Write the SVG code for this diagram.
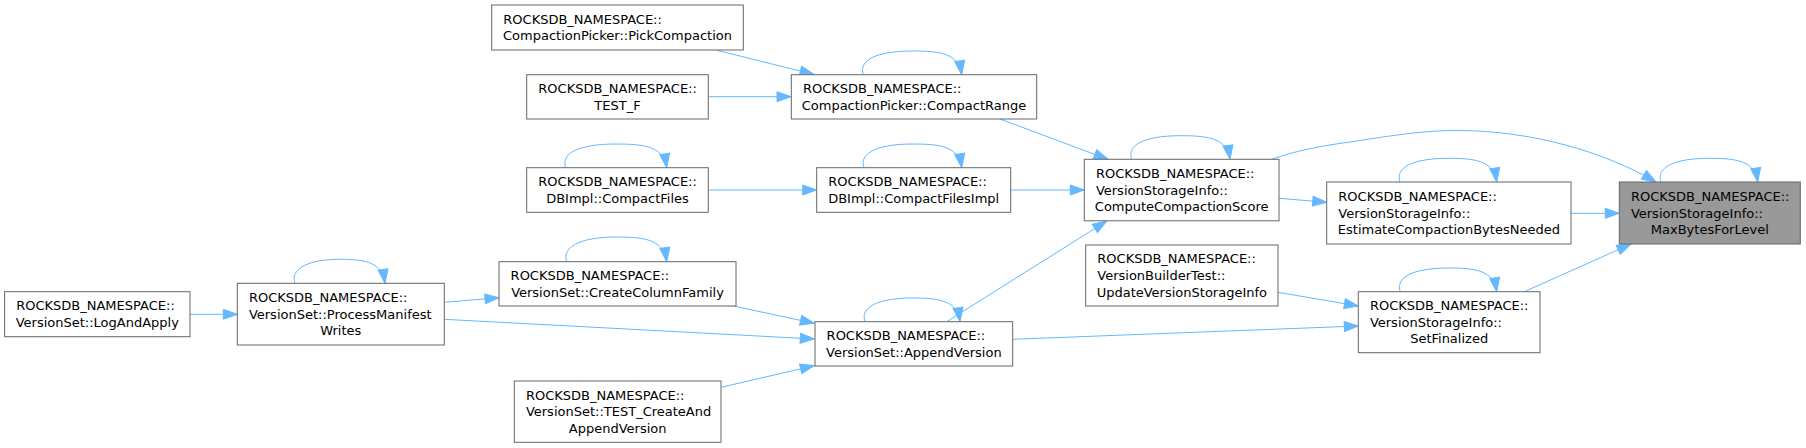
<svg xmlns="http://www.w3.org/2000/svg" width="1806" height="448" viewBox="0 0 1806 448">
<style>
.n rect{fill:#ffffff;stroke:#666666;stroke-width:1}
.n.hl rect{fill:#999999}
.n text{font-family:"DejaVu Sans","Liberation Sans",sans-serif;font-size:13px;fill:#000000}
.s{text-anchor:start}
.m{text-anchor:middle}
.e path{fill:none;stroke:#63b8ff;stroke-width:1;marker-end:url(#ah)}
</style>
<defs>
<marker id="ah" markerUnits="userSpaceOnUse" viewBox="0 0 16 12" markerWidth="16" markerHeight="12" refX="15" refY="6" orient="auto">
<path d="M1,1 L15,6 L1,11 z" fill="#63b8ff" stroke="#63b8ff" stroke-width="1"/>
</marker>
</defs>
<rect width="1806" height="448" fill="#ffffff"/>
<g id="edges" class="e">
<path d="M717,50.3 L814,74.5"/>
<path d="M708.3,96.7 L791,96.7"/>
<path d="M863.3,74.7 C858.3,60.7 875.3,51 912.5,51 C942,51 958.7,54 961.7,74.7"/>
<path d="M1000,119 L1108,159.3"/>
<path d="M565.7,167.7 C560.7,153.7 577.7,144 616.2,144 C646,144 663.7,147 666.7,167.7"/>
<path d="M708.3,190 L816.7,190"/>
<path d="M864,167.7 C859,153.7 876,144 912.8,144 C942,144 958.7,147 961.7,167.7"/>
<path d="M1010.7,190 L1084.3,190"/>
<path d="M1131.7,159.3 C1126.7,145.3 1143.7,135.7 1180.8,135.7 C1210,135.7 1227,138.7 1230,159.3"/>
<path d="M1271.7,159.3 C1295,151 1320,146 1350,142 C1395,135 1425,130.5 1457,130.5 C1530,130.5 1603,151 1656,182"/>
<path d="M1279,198.3 L1326.7,202.3"/>
<path d="M1400,182 C1395,168 1412,158.3 1448.3,158.3 C1477,158.3 1493.7,161.3 1496.7,182"/>
<path d="M1571,213.3 L1619.3,213.3"/>
<path d="M1661,182 C1656,168 1673,158.3 1709.3,158.3 C1738,158.3 1754.7,161.3 1757.7,182"/>
<path d="M1524.3,291.7 L1631,244"/>
<path d="M1400.3,291.7 C1395.3,277.7 1412.3,268 1448.5,268 C1477,268 1493.7,271 1496.7,291.7"/>
<path d="M1278,292.3 L1358.3,306"/>
<path d="M1012.7,339.3 L1358.3,326"/>
<path d="M865,321.7 C860,307.7 877,298 912.5,298 C941,298 957,301 960,321.7"/>
<path d="M946.7,321.7 L1106.7,221"/>
<path d="M732,305.7 L814.3,323.3"/>
<path d="M444.3,319.3 L814.3,339"/>
<path d="M721,387.3 L814.3,365.7"/>
<path d="M295,283.3 C290,269.3 307,259.3 340,259.3 C366,259.3 382,262.3 385,283.3"/>
<path d="M444.3,302.3 L499,297.7"/>
<path d="M190,314.3 L237.3,314.3"/>
<path d="M566.7,261.7 C561.7,247.7 578.7,237 616.7,237 C646,237 663.7,240 666.7,261.7"/>
</g>
<g id="node_pick" class="n">
<rect x="491.7" y="5" width="251.6" height="45"/>
<text class="s" x="503.3" y="23.7">ROCKSDB_NAMESPACE::</text>
<text class="m" x="617.5" y="40.3">CompactionPicker::PickCompaction</text>
</g>
<g id="node_testf" class="n">
<rect x="526.7" y="74.7" width="181.6" height="44.3"/>
<text class="s" x="538.3" y="93.05">ROCKSDB_NAMESPACE::</text>
<text class="m" x="617.5" y="109.65">TEST_F</text>
</g>
<g id="node_compactfiles" class="n">
<rect x="526.7" y="167.7" width="181.6" height="44.6"/>
<text class="s" x="538.3" y="186.2">ROCKSDB_NAMESPACE::</text>
<text class="m" x="617.5" y="202.8">DBImpl::CompactFiles</text>
</g>
<g id="node_compactrange" class="n">
<rect x="791.3" y="74.7" width="245.4" height="44.3"/>
<text class="s" x="802.9" y="93.05">ROCKSDB_NAMESPACE::</text>
<text class="m" x="914" y="109.65">CompactionPicker::CompactRange</text>
</g>
<g id="node_compactfilesimpl" class="n">
<rect x="816.7" y="167.7" width="194" height="44.6"/>
<text class="s" x="828.3" y="186.2">ROCKSDB_NAMESPACE::</text>
<text class="m" x="913.7" y="202.8">DBImpl::CompactFilesImpl</text>
</g>
<g id="node_compute" class="n">
<rect x="1084.3" y="159.3" width="194.7" height="61.5"/>
<text class="s" x="1095.9" y="177.95">ROCKSDB_NAMESPACE::</text>
<text class="s" x="1095.9" y="194.55">VersionStorageInfo::</text>
<text class="m" x="1181.65" y="211.15">ComputeCompactionScore</text>
</g>
<g id="node_estimate" class="n">
<rect x="1326.7" y="182" width="244.3" height="62"/>
<text class="s" x="1338.3" y="200.9">ROCKSDB_NAMESPACE::</text>
<text class="s" x="1338.3" y="217.5">VersionStorageInfo::</text>
<text class="m" x="1448.85" y="234.1">EstimateCompactionBytesNeeded</text>
</g>
<g id="node_maxbytes" class="n hl">
<rect x="1619.3" y="182" width="181" height="62"/>
<text class="s" x="1630.9" y="200.9">ROCKSDB_NAMESPACE::</text>
<text class="s" x="1630.9" y="217.5">VersionStorageInfo::</text>
<text class="m" x="1709.8" y="234.1">MaxBytesForLevel</text>
</g>
<g id="node_update" class="n">
<rect x="1085.7" y="245" width="192.3" height="61"/>
<text class="s" x="1097.3" y="263.4">ROCKSDB_NAMESPACE::</text>
<text class="s" x="1097.3" y="280">VersionBuilderTest::</text>
<text class="m" x="1181.85" y="296.6">UpdateVersionStorageInfo</text>
</g>
<g id="node_setfinalized" class="n">
<rect x="1358.3" y="291.7" width="181.7" height="61"/>
<text class="s" x="1369.9" y="310.1">ROCKSDB_NAMESPACE::</text>
<text class="s" x="1369.9" y="326.7">VersionStorageInfo::</text>
<text class="m" x="1449.15" y="343.3">SetFinalized</text>
</g>
<g id="node_appendversion" class="n">
<rect x="815" y="321.7" width="197.7" height="44.3"/>
<text class="s" x="826.6" y="340.05">ROCKSDB_NAMESPACE::</text>
<text class="m" x="913.85" y="356.65">VersionSet::AppendVersion</text>
</g>
<g id="node_createcf" class="n">
<rect x="499" y="261.7" width="237" height="44.3"/>
<text class="s" x="510.6" y="280.05">ROCKSDB_NAMESPACE::</text>
<text class="m" x="617.5" y="296.65">VersionSet::CreateColumnFamily</text>
</g>
<g id="node_processmanifest" class="n">
<rect x="237.3" y="283.3" width="207" height="61.7"/>
<text class="s" x="248.9" y="302.05">ROCKSDB_NAMESPACE::</text>
<text class="s" x="248.9" y="318.65">VersionSet::ProcessManifest</text>
<text class="m" x="340.8" y="335.25">Writes</text>
</g>
<g id="node_logandapply" class="n">
<rect x="4.6" y="291.7" width="185.4" height="45"/>
<text class="s" x="16.2" y="310.4">ROCKSDB_NAMESPACE::</text>
<text class="m" x="97.3" y="327">VersionSet::LogAndApply</text>
</g>
<g id="node_testcreate" class="n">
<rect x="514.3" y="381" width="206.7" height="61.3"/>
<text class="s" x="525.9" y="399.55">ROCKSDB_NAMESPACE::</text>
<text class="s" x="525.9" y="416.15">VersionSet::TEST_CreateAnd</text>
<text class="m" x="617.65" y="432.75">AppendVersion</text>
</g>
</svg>
